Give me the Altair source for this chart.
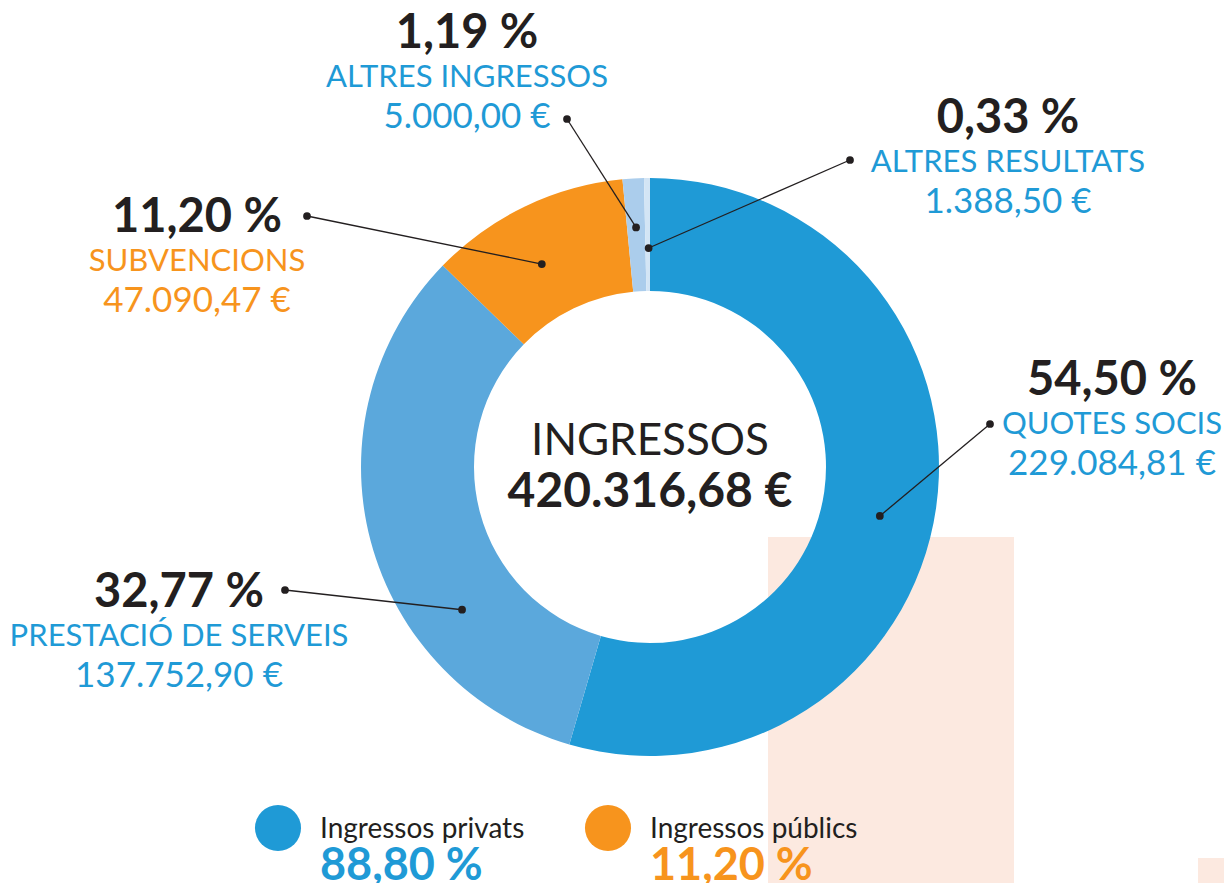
import math
import altair as alt
import pandas as pd

# ---------------- data ----------------
categories = ["QUOTES SOCIS", "PRESTACIÓ DE SERVEIS", "SUBVENCIONS", "ALTRES INGRESSOS", "ALTRES RESULTATS"]
amounts = [229084.81, 137752.90, 47090.47, 5000.00, 1388.50]
groups = ["privats", "privats", "públics", "privats", "privats"]
group_names = ["privats", "públics"]
legend_labels = ["Ingressos privats", "Ingressos públics"]
center_title = "INGRESSOS"

# ---------------- styles / layout ----------------
slice_colors = ["#1F9AD6", "#5BA8DC", "#F7941D", "#ABCDEC", "#D3E5F5"]
group_colors = ["#1F9AD6", "#F7941D"]
DARK = "#231F20"
PEACH = "#FCE9E0"
FONT = "Lato"

M = 8                     # page margin
W, H = 1216, 875
CX, CY = 650 - M, 467 - M
R_OUT, R_IN = 289, 176

# label blocks (page coords: center x, baseline of percentage line)
label_pos = [(1112, 395), (179, 607), (197, 232), (467, 48), (1008, 133)]
outer_dots = [(990, 424), (285, 590), (307, 216), (567, 119), (850, 160)]
inner_frac = [0.52, 0.31, 0.44, 0.5, 0.7]
inner_rad = [235, 236, 230, 240, 219]
legend_pos = [(278, 828), (608, 828)]
bg_rects = [(768, 1014, 537, 892), (1198, 1232, 858, 892)]


def fmt_ca(v, dec=2):
    s = f"{v:,.{dec}f}"
    return s.replace(",", "X").replace(".", ",").replace("X", ".")


total = sum(amounts)
pcts = [a / total * 100 for a in amounts]

# ---------------- tables ----------------
slices = pd.DataFrame({"cat": categories, "value": amounts, "idx": list(range(len(amounts)))})

lines, dots, t_pct, t_name, t_amt = [], [], [], [], []
cum = 0.0
for i, a in enumerate(amounts):
    a0 = cum / total * 2 * math.pi
    cum += a
    a1 = cum / total * 2 * math.pi
    ang = a0 + (a1 - a0) * inner_frac[i]
    ix = CX + inner_rad[i] * math.sin(ang)
    iy = CY - inner_rad[i] * math.cos(ang)
    ox, oy = outer_dots[i][0] - M, outer_dots[i][1] - M
    lines.append({"x": ox, "y": oy, "x2": ix, "y2": iy})
    dots += [{"x": ox, "y": oy}, {"x": ix, "y": iy}]
    lx, ly = label_pos[i][0] - M, label_pos[i][1] - M
    col = group_colors[group_names.index(groups[i])]
    t_pct.append({"x": lx, "y": ly, "t": fmt_ca(pcts[i]) + " %"})
    t_name.append({"x": lx, "y": ly + 39, "t": categories[i], "c": col})
    t_amt.append({"x": lx, "y": ly + 80, "t": fmt_ca(a) + " €", "c": col})

grp_pct = []
for g in group_names:
    grp_pct.append(sum(p for p, gg in zip(pcts, groups) if gg == g))

leg_c, leg_t, leg_p = [], [], []
for j, g in enumerate(group_names):
    lx, ly = legend_pos[j][0] - M, legend_pos[j][1] - M
    leg_c.append({"x": lx, "y": ly, "c": group_colors[j]})
    leg_t.append({"x": lx + 42, "y": ly + 10, "t": legend_labels[j]})
    leg_p.append({"x": lx + 42, "y": ly + 52, "t": fmt_ca(grp_pct[j]) + " %", "c": group_colors[j]})

bg = pd.DataFrame([{"x": a - M, "x2": min(b - M, W), "y": c - M, "y2": min(d - M, H)}
                   for a, b, c, d in bg_rects])

X = lambda f: alt.X(f, type="quantitative", scale=None, axis=None)
Y = lambda f: alt.Y(f, type="quantitative", scale=None, axis=None)

bg_layer = alt.Chart(bg).mark_rect(color=PEACH).encode(
    x=X("x"), x2="x2", y=Y("y"), y2="y2")

arc = alt.Chart(slices).mark_arc(radius=R_OUT, radius2=R_IN).encode(
    theta=alt.Theta("value:Q", stack=True),
    order=alt.Order("idx:Q"),
    color=alt.Color("cat:N", scale=alt.Scale(domain=categories, range=slice_colors), legend=None),
    x=alt.value(CX), y=alt.value(CY))

rule = alt.Chart(pd.DataFrame(lines)).mark_rule(color=DARK, strokeWidth=1.3).encode(
    x=X("x"), y=Y("y"), x2="x2", y2="y2")

dot = alt.Chart(pd.DataFrame(dots)).mark_circle(color=DARK, opacity=1, size=60).encode(
    x=X("x"), y=Y("y"))

pct_text = alt.Chart(pd.DataFrame(t_pct)).mark_text(
    font=FONT, fontSize=47, fontWeight="bold", color=DARK, align="center", baseline="alphabetic"
).encode(x=X("x"), y=Y("y"), text="t:N")

name_text = alt.Chart(pd.DataFrame(t_name)).mark_text(
    font=FONT, fontSize=31, align="center", baseline="alphabetic"
).encode(x=X("x"), y=Y("y"), text="t:N", color=alt.Color("c:N", scale=None))

amt_text = alt.Chart(pd.DataFrame(t_amt)).mark_text(
    font=FONT, fontSize=35, align="center", baseline="alphabetic"
).encode(x=X("x"), y=Y("y"), text="t:N", color=alt.Color("c:N", scale=None))

center_df = pd.DataFrame([{"x": CX, "y": 455 - M, "t": center_title},
                          {"x": CX, "y": 507 - M, "t": fmt_ca(total) + " €"}])
center1 = alt.Chart(center_df.iloc[[0]]).mark_text(
    font=FONT, fontSize=44, color=DARK, align="center", baseline="alphabetic"
).encode(x=X("x"), y=Y("y"), text="t:N")
center2 = alt.Chart(center_df.iloc[[1]]).mark_text(
    font=FONT, fontSize=48, fontWeight="bold", color=DARK, align="center", baseline="alphabetic"
).encode(x=X("x"), y=Y("y"), text="t:N")

leg_circ = alt.Chart(pd.DataFrame(leg_c)).mark_circle(opacity=1, size=2124).encode(
    x=X("x"), y=Y("y"), color=alt.Color("c:N", scale=None))
leg_txt = alt.Chart(pd.DataFrame(leg_t)).mark_text(
    font=FONT, fontSize=28, color=DARK, align="left", baseline="alphabetic"
).encode(x=X("x"), y=Y("y"), text="t:N")
leg_pct = alt.Chart(pd.DataFrame(leg_p)).mark_text(
    font=FONT, fontSize=45, fontWeight="bold", align="left", baseline="alphabetic"
).encode(x=X("x"), y=Y("y"), text="t:N", color=alt.Color("c:N", scale=None))

chart = alt.layer(
    bg_layer, arc, rule, dot, pct_text, name_text, amt_text, center1, center2,
    leg_circ, leg_txt, leg_pct
).resolve_scale(color="independent").properties(
    width=W, height=H, padding=0, autosize=alt.AutoSizeParams(type="none")
).configure_view(stroke=None)

chart.save("out.html", embed_options={"renderer": "svg", "actions": False})
